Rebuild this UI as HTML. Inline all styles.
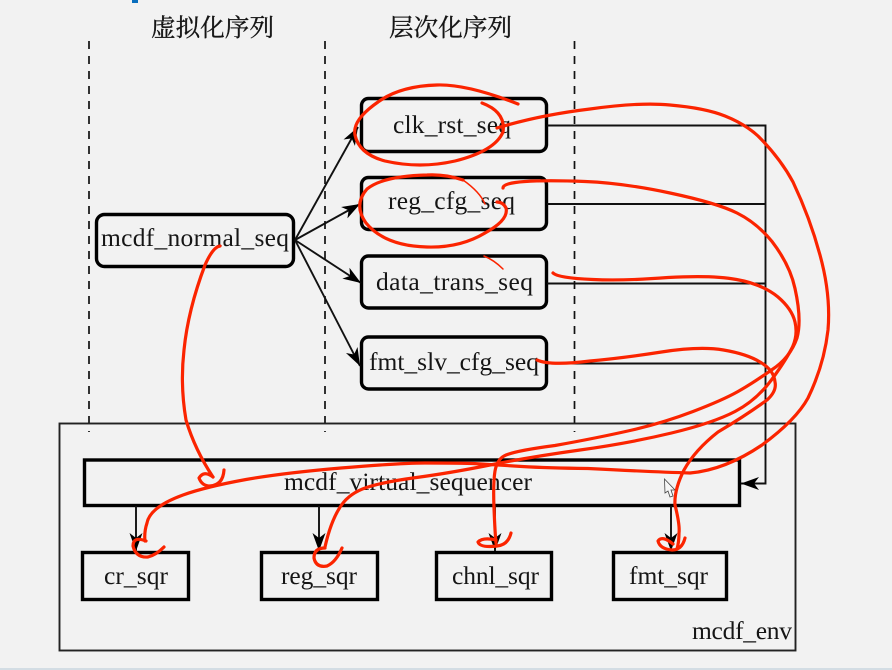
<!DOCTYPE html>
<html><head><meta charset="utf-8">
<style>
html,body{margin:0;padding:0;background:#f2f2f2;width:892px;height:670px;overflow:hidden}
svg{display:block}
text{font-family:"Liberation Serif","Noto Serif CJK SC",serif;font-size:25.5px;fill:#151515}
.t{font-size:24.5px;stroke:#151515;stroke-width:.35}
.b{fill:none;stroke:#000;stroke-width:3.4}
.l{fill:none;stroke:#111;stroke-width:1.9}
.d{fill:none;stroke:#111;stroke-width:1.7;stroke-dasharray:8 7}
.r{fill:none;stroke:#fb2400;stroke-width:3.2;stroke-linecap:round;stroke-linejoin:round}
.r2{fill:none;stroke:#fb2400;stroke-width:1.5;stroke-linecap:round}
</style></head>
<body>
<svg width="892" height="670" viewBox="0 0 892 670" xmlns="http://www.w3.org/2000/svg">
<defs>
<marker id="a" markerUnits="userSpaceOnUse" markerWidth="22" markerHeight="16" refX="18" refY="8" orient="auto">
<path d="M0 1.5 L18 8 L0 14.5 L5 8Z" fill="#000"/>
</marker>
</defs>
<rect width="892" height="670" fill="#f2f2f2"/>
<rect x="132" y="0" width="6" height="3" fill="#0a6ebd"/>
<rect x="0" y="668" width="892" height="2" fill="#d3dde4"/>

<text class="t" x="151" y="36" textLength="123">虚拟化序列</text>
<text class="t" x="389" y="36" textLength="123">层次化序列</text>

<line class="d" x1="89" y1="41" x2="89" y2="432"/>
<line class="d" x1="325" y1="41" x2="325" y2="432"/>
<line class="d" x1="574.5" y1="41" x2="574.5" y2="432"/>

<rect x="59.5" y="423.5" width="736" height="227" fill="none" stroke="#222" stroke-width="1.9"/>

<rect class="b" x="96.5" y="214.5" width="197" height="52" rx="8"/>
<rect class="b" x="361.5" y="98.5" width="185" height="53" rx="7"/>
<rect class="b" x="361.5" y="177.5" width="185" height="52" rx="7"/>
<rect class="b" x="361.5" y="256" width="185" height="52" rx="7"/>
<rect class="b" x="361.5" y="337" width="185" height="52" rx="7"/>

<rect class="b" x="84.5" y="460" width="655" height="45.5"/>
<rect class="b" x="82.5" y="552.5" width="106" height="47"/>
<rect class="b" x="261.5" y="552.5" width="116" height="47"/>
<rect class="b" x="436.5" y="552.5" width="115" height="47"/>
<rect class="b" x="613.5" y="552.5" width="113" height="47"/>

<text x="101" y="246" textLength="188">mcdf_normal_seq</text>
<text x="393" y="133" textLength="118">clk_rst_seq</text>
<text x="388" y="209" textLength="127">reg_cfg_seq</text>
<text x="376" y="290" textLength="157">data_trans_seq</text>
<text x="369" y="370" textLength="170">fmt_slv_cfg_seq</text>
<text x="284" y="490" textLength="248">mcdf_virtual_sequencer</text>
<text x="104" y="584" textLength="64">cr_sqr</text>
<text x="281" y="584" textLength="76">reg_sqr</text>
<text x="452" y="584" textLength="87">chnl_sqr</text>
<text x="629" y="584" textLength="79">fmt_sqr</text>
<text x="692" y="639" textLength="100">mcdf_env</text>

<line class="l" x1="295" y1="240" x2="358" y2="127" marker-end="url(#a)"/>
<line class="l" x1="295" y1="240" x2="360" y2="204" marker-end="url(#a)"/>
<line class="l" x1="295" y1="240" x2="361" y2="283" marker-end="url(#a)"/>
<line class="l" x1="295" y1="240" x2="360" y2="366" marker-end="url(#a)"/>

<path class="l" d="M547 125.5 H765.5 V483.5 H741" marker-end="url(#a)"/>
<line class="l" x1="547" y1="204" x2="765" y2="204"/>
<line class="l" x1="547" y1="283.5" x2="765" y2="283.5"/>
<line class="l" x1="547" y1="363.5" x2="765" y2="363.5"/>

<line class="l" x1="136" y1="506" x2="136" y2="551" marker-end="url(#a)"/>
<line class="l" x1="319" y1="506" x2="319" y2="551" marker-end="url(#a)"/>
<line class="l" x1="495" y1="506" x2="495" y2="551" marker-end="url(#a)"/>
<line class="l" x1="671" y1="506" x2="671" y2="551" marker-end="url(#a)"/>

<path d="M664.5 479 L675 490 L671 490 L673 496 L670 497 L668 491 L665 493Z" fill="#f7f7f7" stroke="#444" stroke-width="0.8"/>

<!-- red annotations -->
<path class="r" d="M518 104 Q467 84 437 85 Q400 86 378 102 Q352 120 355 135 Q359 154 385 161 Q420 169 455 161 Q495 151 503 132 Q506 112 482 103"/>
<path class="r" d="M497 128 Q540 115 590 109 Q640 102 670 105 Q705 108 725 116 Q745 124 758 136 Q780 158 793 182 Q810 218 820 255 Q831 295 828 330 Q824 365 808 398 Q796 420 762 445 Q725 470 690 473 Q655 472 588 468.5 Q547 468 522 466.5 Q497 465 473 463.5 Q450 463 425 463 Q400 463 341 468 Q283 473 246 479.5 Q205 487 183 495 Q150 507 147 523 Q144 532 145 541"/>
<path class="r" d="M146 541 Q133 536 133 546 Q136 558 148 557 Q156 555 164 547"/>
<path class="r2" d="M485 204 Q480 192 463 180"/>
<path class="r" d="M463 180 Q445 174 427 175 Q383 176 367 189 Q353 205 366 223 Q385 246 427 247 Q460 248 485 233 Q509 220 506 208 Q503 202 497 202"/>
<path class="r" d="M503 188 Q503 183 525 181.5 Q547 180 585 181.5 Q623 183 670 193 Q717 203 737 213 Q757 223 772 241.5 Q790 265 795 288.5 Q802 320 797 338 Q790 358 771.5 370 Q753 383 738 391.5 Q723 400 693 411.5 Q663 423 630 430.5 Q597 438 555 445.5 Q513 451 504 456 Q497 460 495 471 Q493 483 494 508 Q495 533 496 543"/>
<path class="r" d="M496 540 Q483 537 478 542 Q480 548 497 546 Q508 545 511 533"/>
<path class="r" d="M553 273 Q558 278 593 279.5 Q623 281 668 277.5 Q713 275 736.5 279.5 Q762 284 778 297 Q792 309 795 322 Q798 335 792.5 347 Q786 360 772.5 378.5 Q757 400 735 411.5 Q713 423 671.5 433 Q630 443 580 450 Q530 457 490 465 Q450 473 416.5 477.5 Q383 482 366.5 487.5 Q350 493 341.5 505 Q331 520 325 547"/>
<path class="r" d="M325 548 Q314 548 314 558 Q316 568 327 566 Q336 562 342 548"/>
<path class="r" d="M537 360 Q550 366 590 361 Q623 358 661.5 352 Q700 346 723.5 350 Q747 354 760 362 Q774 370 775 382 Q777 391 767 400 Q745 416 718 432 Q695 450 684 470 Q674 490 675 505 Q680 525 679 533 Q679 542 677 549"/>
<path class="r" d="M685 538 Q682 550 672 550 Q660 549 658 541 Q662 535 673 544"/>
<path class="r" d="M220 246 Q213 247 205 265 Q188 310 184 350 Q180 385 186 420 Q195 450 213 477"/>
<path class="r" d="M213 477 Q204 470 199 478 Q202 486 210 486 Q223 485 224 470"/>
<path class="r2" d="M484 256 Q494 260 503 269"/>
</svg>
</body></html>
